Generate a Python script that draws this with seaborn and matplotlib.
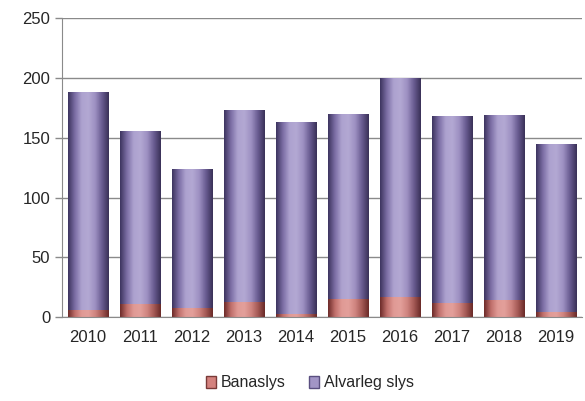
import numpy as np
import pandas as pd
import matplotlib
matplotlib.use("Agg")
import matplotlib.pyplot as plt
import seaborn as sns
from matplotlib.patches import Patch
from matplotlib.colors import LinearSegmentedColormap

years = ["2010", "2011", "2012", "2013", "2014", "2015", "2016", "2017", "2018", "2019"]
banaslys = [6, 11, 8, 13, 3, 15, 17, 11.5, 14, 4.5]
total = [188, 156, 124, 173, 163, 170, 200, 168, 169, 145]
alvarleg = [t - b for t, b in zip(total, banaslys)]

df = pd.DataFrame({"Ár": years, "Banaslys": banaslys, "Alvarleg slys": alvarleg})
df["Samtals"] = df["Banaslys"] + df["Alvarleg slys"]

sns.set_style("white")
plt.rcParams["font.family"] = ["Liberation Sans", "DejaVu Sans"]

purple = "#a295c6"
red = "#d4827e"
# horizontal shading like the original (dark edges, light middle)
purple_cmap = LinearSegmentedColormap.from_list(
    "p", ["#3e3560", "#7d6fa6", "#ada2cf", "#b3a9d3", "#9d90c2", "#6a5d92", "#3a3158"])
red_cmap = LinearSegmentedColormap.from_list(
    "r", ["#6e2c2a", "#c0706c", "#e09a95", "#e3a09b", "#d08580", "#a55a56", "#6a2a28"])

fig = plt.figure(figsize=(5.85, 4.01), dpi=100)
ax = fig.add_axes([0.106, 0.209, 0.889, 0.746])

sns.barplot(data=df, x="Ár", y="Samtals", color=purple, width=0.77,
            linewidth=0, saturation=1, ax=ax)
n_purple = len(ax.patches)
sns.barplot(data=df, x="Ár", y="Banaslys", color=red, width=0.77,
            linewidth=0, saturation=1, ax=ax)

grad = np.linspace(0, 1, 64).reshape(1, -1)
for i, p in enumerate(ax.patches):
    cmap = purple_cmap if i < n_purple else red_cmap
    x0, y0 = p.get_x(), p.get_y()
    w, h = p.get_width(), p.get_height()
    im = ax.imshow(grad, cmap=cmap, aspect="auto", extent=[x0, x0 + w, y0, y0 + h],
                   zorder=p.get_zorder() + (0.1 if i >= n_purple else 0.05),
                   interpolation="bicubic")
    im.set_clip_path(p)
    p.set_facecolor("none")

ax.set_ylim(0, 250)
ax.set_xlim(-0.5, len(years) - 0.5)
ax.set_yticks(range(0, 251, 50))
ax.yaxis.grid(True, color="#8a8a8a", linewidth=1)
ax.set_axisbelow(True)
ax.set_xlabel("")
ax.set_ylabel("")

for s in ["top", "right"]:
    ax.spines[s].set_visible(False)
ax.spines["left"].set_color("#8a8a8a")
ax.spines["bottom"].set_color("#8a8a8a")

ax.set_xticks(np.arange(len(years)))
ax.set_xticklabels(years)
ax.set_xticks(np.arange(-0.5, len(years), 1), minor=True)
ax.tick_params(axis="x", which="major", length=0, labelsize=12, pad=9)
ax.tick_params(axis="x", which="minor", length=5, color="#8a8a8a", width=1)
ax.tick_params(axis="y", length=5, color="#8a8a8a", width=1, labelsize=12, left=True)

handles = [Patch(facecolor=red, edgecolor="#7a3a38", label="Banaslys"),
           Patch(facecolor=purple, edgecolor="#5a4f80", label="Alvarleg slys")]
fig.legend(handles=handles, loc="center", bbox_to_anchor=(0.53, 0.045), ncol=2,
           frameon=False, fontsize=11.5, handlelength=0.6, handleheight=0.8,
           handletextpad=0.3, columnspacing=1.5)

fig.savefig("out.png", dpi=100)
